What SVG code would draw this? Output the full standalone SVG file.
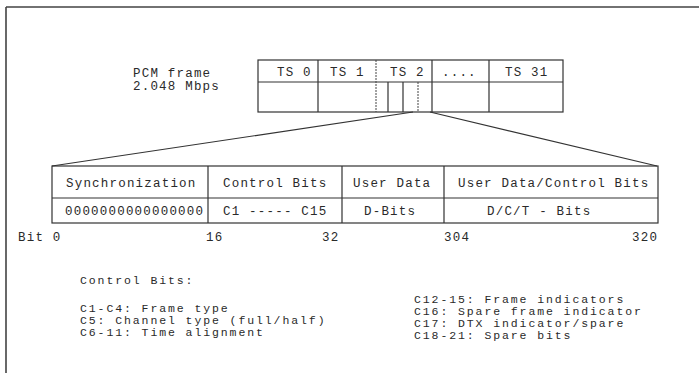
<svg xmlns="http://www.w3.org/2000/svg" width="699" height="373" viewBox="0 0 699 373">
<style>
text{font-family:"Liberation Mono","DejaVu Sans Mono",monospace;font-size:12.5px;letter-spacing:1.2px;fill:#2a2a2a}
.lg{font-size:11.5px;letter-spacing:1.9px}
.ln{stroke:#333;stroke-width:1.2;fill:none}
.dl{stroke:#444;stroke-width:1;fill:none;stroke-dasharray:2 1}
.fr{stroke:#444;stroke-width:1.6;fill:none}
</style>
<rect width="699" height="373" fill="#fff"/>
<g id="frame">
<path class="fr" d="M6 7H699M6 7V373"/>
</g>
<g id="pcm-label">
<text x="133" y="76.5">PCM frame</text>
<text x="133" y="90">2.048 Mbps</text>
</g>
<g id="pcm-frame">
<rect class="ln" x="258" y="60" width="305" height="52"/>
<path class="ln" d="M258 82H563M318 60V112M432 60V112M489 60V112M388 82V112M403 82V112"/>
<path class="dl" d="M376 60V112M418 82V112"/>
<text x="277" y="76">TS 0</text>
<text x="330" y="76">TS 1</text>
<text x="390" y="76">TS 2</text>
<text x="442" y="76">....</text>
<text x="505" y="76">TS 31</text>
</g>
<g id="connectors">
<path class="ln" d="M413 112L52 166M430 112L657 166" stroke-width="0.9"/>
</g>
<g id="subframe">
<rect class="ln" x="52" y="166" width="606" height="57"/>
<path class="ln" d="M52 198H658M208 166V223M342 166V223M444 166V223"/>
<text x="66" y="187">Synchronization</text>
<text x="223" y="187">Control Bits</text>
<text x="353" y="187">User Data</text>
<text x="458" y="187">User Data/Control Bits</text>
<text x="65" y="215">0000000000000000</text>
<text x="223" y="215">C1 ----- C15</text>
<text x="364" y="215">D-Bits</text>
<text x="487" y="215">D/C/T - Bits</text>
</g>
<g id="bit-positions">
<text x="18" y="241">Bit 0</text>
<text x="206" y="241">16</text>
<text x="322" y="241">32</text>
<text x="444" y="241">304</text>
<text x="632" y="241">320</text>
</g>
<g id="legend">
<text class="lg" x="80" y="284">Control Bits:</text>
<text class="lg" x="80" y="312">C1-C4: Frame type</text>
<text class="lg" x="80" y="324">C5: Channel type (full/half)</text>
<text class="lg" x="80" y="336">C6-11: Time alignment</text>
<text class="lg" x="414" y="303">C12-15: Frame indicators</text>
<text class="lg" x="414" y="315">C16: Spare frame indicator</text>
<text class="lg" x="414" y="327">C17: DTX indicator/spare</text>
<text class="lg" x="414" y="339">C18-21: Spare bits</text>
</g>
</svg>
